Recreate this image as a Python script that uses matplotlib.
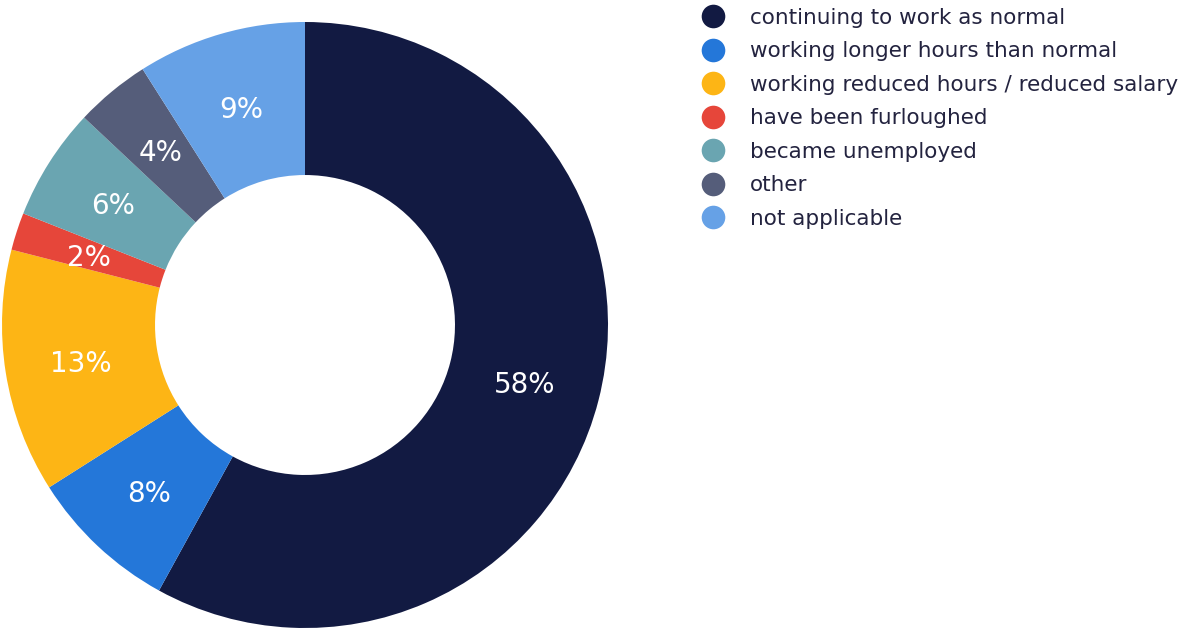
import matplotlib.pyplot as plt
from matplotlib.lines import Line2D

categories = [
    "continuing to work as normal",
    "working longer hours than normal",
    "working reduced hours / reduced salary",
    "have been furloughed",
    "became unemployed",
    "other",
    "not applicable",
]
shares = [58, 8, 13, 2, 6, 4, 9]
colors = ["#121a42", "#2477d9", "#fdb515", "#e6463a", "#6aa5b1", "#555d7a", "#66a1e6"]

W, H = 1192, 634
fig = plt.figure(figsize=(W / 100, H / 100), dpi=100)

# donut axes: 606 px square, centre at (305, 325) from top-left
ax = fig.add_axes([2 / W, (H - 628) / H, 606 / W, 606 / H])
wedges, texts = ax.pie(
    shares, colors=colors, startangle=90, counterclock=False,
    labels=[f"{v}%" for v in shares], labeldistance=0.75,
    wedgeprops=dict(width=0.505, linewidth=0),
    textprops=dict(color="white", fontsize=20, ha="center", va="center_baseline"),
)
ax.set_xlim(-1, 1)
ax.set_ylim(-1, 1)
ax.set_aspect("equal")
ax.axis("off")

handles = [Line2D([], [], marker="o", linestyle="", markersize=17,
                  markerfacecolor=c, markeredgewidth=0) for c in colors]
fig.legend(handles, categories, loc="upper left",
           bbox_to_anchor=(694 / W, 1 + 1 / H), frameon=False,
           fontsize=15.5, labelcolor="#23233f", handlelength=1.0,
           handletextpad=1.2, labelspacing=0.63, borderaxespad=0)

fig.savefig("out.png", dpi=100)
